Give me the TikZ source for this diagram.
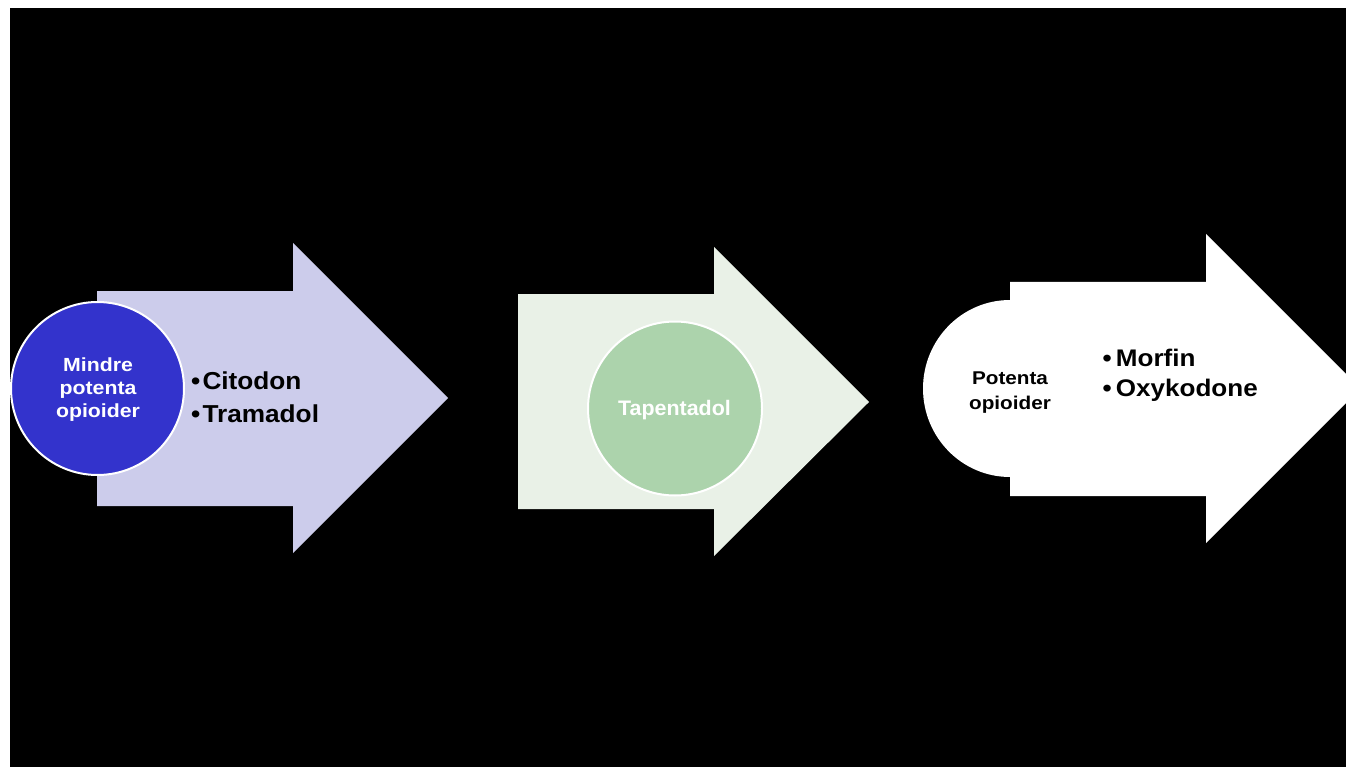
\documentclass[tikz,border=0pt]{standalone}
\usepackage{fontspec}
\setmainfont{Liberation Sans}
\definecolor{arrowA}{HTML}{CCCCEB}
\definecolor{circA}{HTML}{3333CC}
\definecolor{arrowB}{HTML}{E9F1E7}
\definecolor{circB}{HTML}{ACD3AC}
\newcommand{\wx}[2]{\scalebox{#1}[1]{#2}}
\tikzset{
  stepcirc/.style={circle, draw=white, line width=2pt, inner sep=0pt},
  txt/.style={inner sep=0pt},
  bulA/.style={txt, anchor=base west, font=\fontsize{24.5}{28}\selectfont\bfseries},
  bulB/.style={txt, anchor=base west, font=\fontsize{24}{28}\selectfont\bfseries},
  smallA/.style={txt, anchor=base, text=white, font=\fontsize{19}{23}\selectfont\bfseries},
  smallB/.style={txt, anchor=base, font=\fontsize{18.5}{23}\selectfont\bfseries},
}
\begin{document}
\begin{tikzpicture}[x=1pt,y=-1pt]
\useasboundingbox (0,0) rectangle (1346,767);
\fill[white] (0,0) rectangle (1346,767);
\clip (0,0) rectangle (1346,767);
\fill[black] (10,8) rectangle (1346,767);
% arrow 1
\fill[arrowA] (97,291) -- (293,291) -- (293,243) -- (448,398) -- (293,553) -- (293,506) -- (97,506) -- cycle;
\node[stepcirc, fill=circA, minimum size=173pt] (c1) at (97.5,388.5) {};
\node[smallA] (c1a) at (98,371.5) {\wx{1.12}{Mindre}};
\node[smallA] (c1b) at (98,394.5) {\wx{1.12}{potenta}};
\node[smallA] (c1c) at (98,417.5) {\wx{1.12}{opioider}};
\node[bulA] (d1) at (191,389.5) {\wx{1.07}{\textbullet}};
\node[bulA] (b1) at (202.3,389.5) {\wx{1.07}{Citodon}};
\node[bulA] (d2) at (191,422) {\wx{1.07}{\textbullet}};
\node[bulA] (b2) at (202.3,422) {\wx{1.07}{Tramadol}};
% arrow 2
\fill[arrowB] (518,294) -- (714,294) -- (714,247) -- (869,402) -- (714,556) -- (714,509) -- (518,509) -- cycle;
\node[stepcirc, fill=circB, minimum size=174pt] (c2) at (675,408.5) {};
\node[txt, anchor=base, text=white, font=\fontsize{21}{24}\selectfont\bfseries] (c2a) at (674.5,415) {\wx{1.02}{Tapentadol}};
% arrow 3
\fill[white] (1010,282) -- (1206,282) -- (1206,234) -- (1360.5,388.5) -- (1206,543) -- (1206,496) -- (1010,496) -- (1010,477)
  arc[start angle=90, end angle=270, x radius=87, y radius=88.5] -- cycle;
\node[smallB] (c3a) at (1010,384) {\wx{1.12}{Potenta}};
\node[smallB] (c3b) at (1010,409) {\wx{1.12}{opioider}};
\node[bulB] (d3) at (1102.5,366.5) {\wx{1.085}{\textbullet}};
\node[bulB] (b3) at (1115.7,366.5) {\wx{1.085}{Morfin}};
\node[bulB] (d4) at (1102.5,396) {\wx{1.085}{\textbullet}};
\node[bulB] (b4) at (1115.7,396) {\wx{1.085}{Oxykodone}};
\end{tikzpicture}
\end{document}
